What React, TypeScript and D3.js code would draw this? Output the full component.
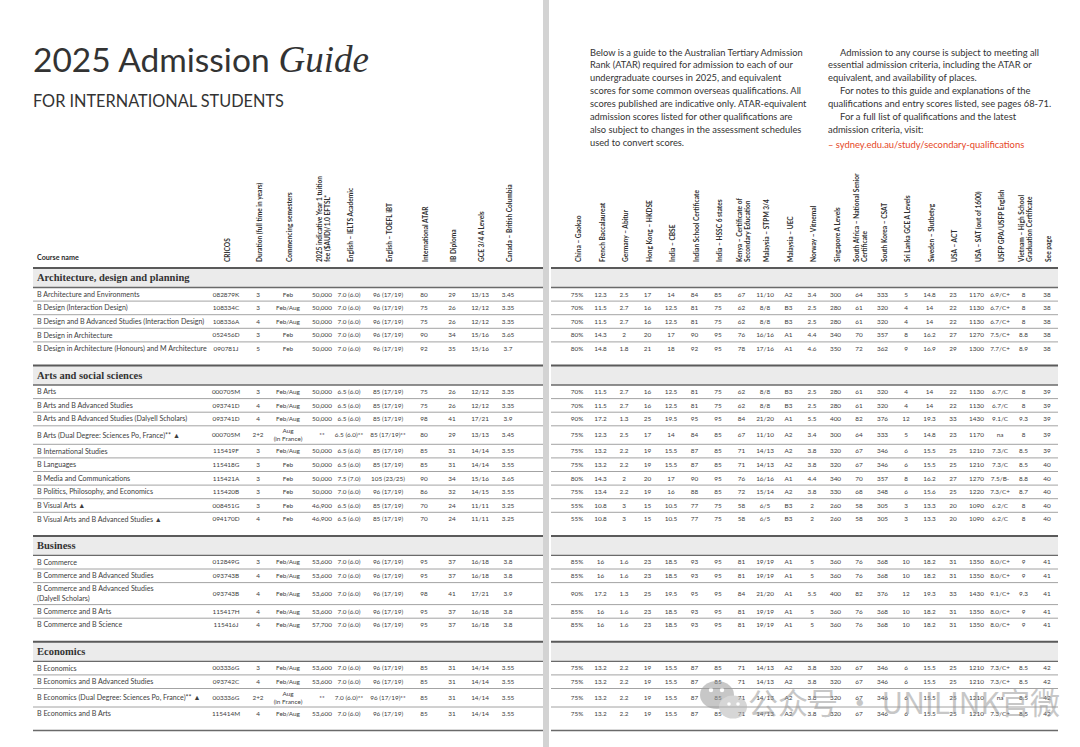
import React from "react";
import * as d3 from "d3";

// ---------- DATA ----------
const titleMain = "2025 Admission";
const titleItalic = "Guide";
const subtitle = "FOR INTERNATIONAL STUDENTS";

const introLeft = [
  "Below is a guide to the Australian Tertiary Admission",
  "Rank (ATAR) required for admission to each of our",
  "undergraduate courses in 2025, and equivalent",
  "scores for some common overseas qualifications. All",
  "scores published are indicative only. ATAR-equivalent",
  "admission scores listed for other qualifications are",
  "also subject to changes in the assessment schedules",
  "used to convert scores.",
];
const introRight = [
  { t: "Admission to any course is subject to meeting all", indent: true },
  { t: "essential admission criteria, including the ATAR or", indent: false },
  { t: "equivalent, and availability of places.", indent: false },
  { t: "For notes to this guide and explanations of the", indent: true },
  { t: "qualifications and entry scores listed, see pages 68-71.", indent: false },
  { t: "For a full list of qualifications and the latest", indent: true },
  { t: "admission criteria, visit:", indent: false },
];
const linkText = "–  sydney.edu.au/study/secondary-qualifications";

const leftHeaders = [
  ["CRICOS"],
  ["Duration (full time in years)"],
  ["Commencing semesters"],
  ["2025 indicative Year 1 tuition", "fee ($AUD)/1.0 EFTSL*"],
  ["English – IELTS Academic"],
  ["English – TOEFL iBT"],
  ["International ATAR"],
  ["IB Diploma"],
  ["GCE 3/4 A Levels"],
  ["Canada – British Columbia"],
];
const rightHeaders = [
  ["China – Gaokao"],
  ["French Baccalaureat"],
  ["Germany – Abitur"],
  ["Hong Kong – HKDSE"],
  ["India – CBSE"],
  ["Indian School Certificate"],
  ["India – HSSC 6 states"],
  ["Kenya – Certificate of", "Secondary Education"],
  ["Malaysia – STPM 3/4"],
  ["Malaysia – UEC"],
  ["Norway – Vitnemal"],
  ["Singapore A Levels"],
  ["South Africa – National Senior", "Certificate"],
  ["South Korea – CSAT"],
  ["Sri Lanka GCE A Levels"],
  ["Sweden – Slutbetyg"],
  ["USA – ACT"],
  ["USA – SAT (out of 1600)"],
  ["USFP GPA/USFP English"],
  ["Vietnam – High School", "Graduation Certificate"],
  ["See page"],
];

const sectionTitles = [
  "Architecture, design and planning",
  "Arts and social sciences",
  "Business",
  "Economics",
];

const archNames = [
  "B Architecture and Environments",
  "B Design (Interaction Design)",
  "B Design and B Advanced Studies (Interaction Design)",
  "B Design in Architecture",
  "B Design in Architecture (Honours) and M Architecture",
];
const archLeft = [
  ["082879K", "3", "Feb", "50,000", "7.0 (6.0)", "96 (17/19)", "80", "29", "13/13", "3.45"],
  ["108334C", "3", "Feb/Aug", "50,000", "7.0 (6.0)", "96 (17/19)", "75", "26", "12/12", "3.35"],
  ["108336A", "4", "Feb/Aug", "50,000", "7.0 (6.0)", "96 (17/19)", "75", "26", "12/12", "3.35"],
  ["052456D", "3", "Feb", "50,000", "7.0 (6.0)", "96 (17/19)", "90", "34", "15/16", "3.65"],
  ["090781J", "5", "Feb", "50,000", "7.0 (6.0)", "96 (17/19)", "92", "35", "15/16", "3.7"],
];
const archRight = [
  ["75%", "12.3", "2.5", "17", "14", "84", "85", "67", "11/10", "A2", "3.4", "300", "64", "333", "5", "14.8", "23", "1170", "6.9/C+", "8", "38"],
  ["70%", "11.5", "2.7", "16", "12.5", "81", "75", "62", "8/8", "B3", "2.5", "280", "61", "320", "4", "14", "22", "1130", "6.7/C+", "8", "38"],
  ["70%", "11.5", "2.7", "16", "12.5", "81", "75", "62", "8/8", "B3", "2.5", "280", "61", "320", "4", "14", "22", "1130", "6.7/C+", "8", "38"],
  ["80%", "14.3", "2", "20", "17", "90", "95", "76", "16/16", "A1", "4.4", "340", "70", "357", "8", "16.2", "27", "1270", "7.5/C+", "8.8", "38"],
  ["80%", "14.8", "1.8", "21", "18", "92", "95", "78", "17/16", "A1", "4.6", "350", "72", "362", "9", "16.9", "29", "1300", "7.7/C+", "8.9", "38"],
];

const artsNames = [
  "B Arts",
  "B Arts and B Advanced Studies",
  "B Arts and B Advanced Studies (Dalyell Scholars)",
  "B Arts (Dual Degree: Sciences Po, France)**  ▲",
  "B International Studies",
  "B Languages",
  "B Media and Communications",
  "B Politics, Philosophy, and Economics",
  "B Visual Arts  ▲",
  "B Visual Arts and B Advanced Studies  ▲",
];
const artsLeft = [
  ["000705M", "3", "Feb/Aug", "50,000", "6.5 (6.0)", "85 (17/19)", "75", "26", "12/12", "3.35"],
  ["093741D", "4", "Feb/Aug", "50,000", "6.5 (6.0)", "85 (17/19)", "75", "26", "12/12", "3.35"],
  ["093741D", "4", "Feb/Aug", "50,000", "6.5 (6.0)", "85 (17/19)", "98", "41", "17/21", "3.9"],
  ["000705M", "2+2", "Aug\n(in France)", "**", "6.5 (6.0)**", "85 (17/19)**", "80", "29", "13/13", "3.45"],
  ["115419F", "3", "Feb/Aug", "50,000", "6.5 (6.0)", "85 (17/19)", "85", "31", "14/14", "3.55"],
  ["115418G", "3", "Feb", "50,000", "6.5 (6.0)", "85 (17/19)", "85", "31", "14/14", "3.55"],
  ["115421A", "3", "Feb", "50,000", "7.5 (7.0)", "105 (23/25)", "90", "34", "15/16", "3.65"],
  ["115420B", "3", "Feb", "50,000", "7.0 (6.0)", "96 (17/19)", "86", "32", "14/15", "3.55"],
  ["008451G", "3", "Feb", "46,900", "6.5 (6.0)", "85 (17/19)", "70", "24", "11/11", "3.25"],
  ["094170D", "4", "Feb", "46,900", "6.5 (6.0)", "85 (17/19)", "70", "24", "11/11", "3.25"],
];
const artsRight = [
  ["70%", "11.5", "2.7", "16", "12.5", "81", "75", "62", "8/8", "B3", "2.5", "280", "61", "320", "4", "14", "22", "1130", "6.7/C", "8", "39"],
  ["70%", "11.5", "2.7", "16", "12.5", "81", "75", "62", "8/8", "B3", "2.5", "280", "61", "320", "4", "14", "22", "1130", "6.7/C", "8", "39"],
  ["90%", "17.2", "1.3", "25", "19.5", "95", "95", "84", "21/20", "A1", "5.5", "400", "82", "376", "12", "19.3", "33", "1430", "9.1/C", "9.3", "39"],
  ["75%", "12.3", "2.5", "17", "14", "84", "85", "67", "11/10", "A2", "3.4", "300", "64", "333", "5", "14.8", "23", "1170", "na", "8", "39"],
  ["75%", "13.2", "2.2", "19", "15.5", "87", "85", "71", "14/13", "A2", "3.8", "320", "67", "346", "6", "15.5", "25", "1210", "7.3/C", "8.5", "39"],
  ["75%", "13.2", "2.2", "19", "15.5", "87", "85", "71", "14/13", "A2", "3.8", "320", "67", "346", "6", "15.5", "25", "1210", "7.3/C", "8.5", "40"],
  ["80%", "14.3", "2", "20", "17", "90", "95", "76", "16/16", "A1", "4.4", "340", "70", "357", "8", "16.2", "27", "1270", "7.5/B-", "8.8", "40"],
  ["75%", "13.4", "2.2", "19", "16", "88", "85", "72", "15/14", "A2", "3.8", "330", "68", "348", "6", "15.6", "25", "1220", "7.3/C+", "8.7", "40"],
  ["55%", "10.8", "3", "15", "10.5", "77", "75", "58", "6/5", "B3", "2", "260", "58", "305", "3", "13.3", "20", "1090", "6.2/C", "8", "40"],
  ["55%", "10.8", "3", "15", "10.5", "77", "75", "58", "6/5", "B3", "2", "260", "58", "305", "3", "13.3", "20", "1090", "6.2/C", "8", "40"],
];

const bizNames = [
  "B Commerce",
  "B Commerce and B Advanced Studies",
  "B Commerce and B Advanced Studies\n(Dalyell Scholars)",
  "B Commerce and B Arts",
  "B Commerce and B Science",
];
const bizLeft = [
  ["012849G", "3", "Feb/Aug", "53,600", "7.0 (6.0)", "96 (17/19)", "95", "37", "16/18", "3.8"],
  ["093743B", "4", "Feb/Aug", "53,600", "7.0 (6.0)", "96 (17/19)", "95", "37", "16/18", "3.8"],
  ["093743B", "4", "Feb/Aug", "53,600", "7.0 (6.0)", "96 (17/19)", "98", "41", "17/21", "3.9"],
  ["115417H", "4", "Feb/Aug", "53,600", "7.0 (6.0)", "96 (17/19)", "95", "37", "16/18", "3.8"],
  ["115416J", "4", "Feb/Aug", "57,700", "7.0 (6.0)", "96 (17/19)", "95", "37", "16/18", "3.8"],
];
const bizRight = [
  ["85%", "16", "1.6", "23", "18.5", "93", "95", "81", "19/19", "A1", "5", "360", "76", "368", "10", "18.2", "31", "1350", "8.0/C+", "9", "41"],
  ["85%", "16", "1.6", "23", "18.5", "93", "95", "81", "19/19", "A1", "5", "360", "76", "368", "10", "18.2", "31", "1350", "8.0/C+", "9", "41"],
  ["90%", "17.2", "1.3", "25", "19.5", "95", "95", "84", "21/20", "A1", "5.5", "400", "82", "376", "12", "19.3", "33", "1430", "9.1/C+", "9.3", "41"],
  ["85%", "16", "1.6", "23", "18.5", "93", "95", "81", "19/19", "A1", "5", "360", "76", "368", "10", "18.2", "31", "1350", "8.0/C+", "9", "41"],
  ["85%", "16", "1.6", "23", "18.5", "93", "95", "81", "19/19", "A1", "5", "360", "76", "368", "10", "18.2", "31", "1350", "8.0/C+", "9", "41"],
];

const ecoNames = [
  "B Economics",
  "B Economics and B Advanced Studies",
  "B Economics (Dual Degree: Sciences Po, France)** ▲",
  "B Economics and B Arts",
];
const ecoLeft = [
  ["003336G", "3", "Feb/Aug", "53,600", "7.0 (6.0)", "96 (17/19)", "85", "31", "14/14", "3.55"],
  ["093742C", "4", "Feb/Aug", "53,600", "7.0 (6.0)", "96 (17/19)", "85", "31", "14/14", "3.55"],
  ["003336G", "2+2", "Aug\n(in France)", "**", "7.0 (6.0)**", "96 (17/19)**", "85", "31", "14/14", "3.55"],
  ["115414M", "4", "Feb/Aug", "53,600", "7.0 (6.0)", "96 (17/19)", "85", "31", "14/14", "3.55"],
];
const ecoRight = [
  ["75%", "13.2", "2.2", "19", "15.5", "87", "85", "71", "14/13", "A2", "3.8", "320", "67", "346", "6", "15.5", "25", "1210", "7.3/C+", "8.5", "42"],
  ["75%", "13.2", "2.2", "19", "15.5", "87", "85", "71", "14/13", "A2", "3.8", "320", "67", "346", "6", "15.5", "25", "1210", "7.3/C+", "8.5", "42"],
  ["75%", "13.2", "2.2", "19", "15.5", "87", "85", "71", "14/13", "A2", "3.8", "320", "67", "346", "6", "15.5", "25", "1210", "na", "8.5", "42"],
  ["75%", "13.2", "2.2", "19", "15.5", "87", "85", "71", "14/13", "A2", "3.8", "320", "67", "346", "6", "15.5", "25", "1210", "7.3/C+", "8.5", "42"],
];

const watermarkText = "公众号 · UNILINK官微";

// ---------- LAYOUT ----------
const W = 1080;
const H = 747;
const SANS = "Lato, 'Open Sans', sans-serif";
const SERIF = "'Liberation Serif', 'DejaVu Serif', serif";
const TXT = "#3d3d3d";

const LEFT_X0 = 33;
const LEFT_X1 = 543;
const RIGHT_X0 = 551;
const RIGHT_X1 = 1058;
const HEAD_Y = 268;
const BAND = 19.5;
const ROW = 13.6;
const ROW_DBL = 18.5;
const ROW_DBL_NAME = 22;
const GAP = 10;
const FS = 6.4;
const FS_NAME = 7.1;
const FS_HEAD = 6.6;

export default function App() {
  const sections = [
    { title: sectionTitles[0], names: archNames, left: archLeft, right: archRight },
    { title: sectionTitles[1], names: artsNames, left: artsLeft, right: artsRight },
    { title: sectionTitles[2], names: bizNames, left: bizLeft, right: bizRight },
    { title: sectionTitles[3], names: ecoNames, left: ecoLeft, right: ecoRight },
  ];

  const leftX = d3
    .scaleOrdinal<number, number>()
    .domain(d3.range(leftHeaders.length))
    .range([226, 258, 288, 322, 349, 388, 424, 452, 480, 508]);
  const rightX = d3
    .scalePoint<number>()
    .domain(d3.range(rightHeaders.length))
    .range([577, 1047]);

  // vertical layout
  let y = HEAD_Y;
  const layout = sections.map((s) => {
    const top = y;
    const bandBottom = top + BAND;
    let ry = bandBottom;
    const rows = s.names.map((name, i) => {
      const nameDbl = name.includes("\n");
      const dbl = nameDbl || s.left[i].some((v) => v.includes("\n"));
      const h = nameDbl ? ROW_DBL_NAME : dbl ? ROW_DBL : ROW;
      const r = { y0: ry, y1: ry + h, cy: ry + h / 2 };
      ry += h;
      return r;
    });
    y = ry + GAP;
    return { top, bandBottom, rows };
  });
  const bottomY = y;

  const cell = (
    txt: string,
    x: number,
    cy: number,
    anchor: string,
    lineGap: number,
    fs: number,
    key: string
  ) => {
    const lines = txt.split("\n");
    const n = lines.length;
    return (
      <text key={key} x={x} textAnchor={anchor as any} fontFamily={SANS} fontSize={fs} fill={TXT}>
        {lines.map((l, k) => (
          <tspan key={k} x={x} y={cy + (k - (n - 1) / 2) * lineGap + fs * 0.35}>
            {l}
          </tspan>
        ))}
      </text>
    );
  };

  const header = (lines: string[], x: number, key: string) => {
    const n = lines.length;
    return (
      <text
        key={key}
        transform={`translate(${x},262) rotate(-90)`}
        fontFamily={SANS}
        fontSize={FS_HEAD}
        fontWeight={700}
        fill="#2f2f2f"
      >
        {lines.map((l, k) => (
          <tspan key={k} x={0} y={(k - (n - 1) / 2) * 8 + FS_HEAD * 0.35}>
            {l}
          </tspan>
        ))}
      </text>
    );
  };

  return (
    <svg
      width={W}
      height={H}
      viewBox={`0 0 ${W} ${H}`}
      style={{ position: "absolute", left: 0, top: 0, background: "#fff" }}
    >
      <rect x={0} y={0} width={W} height={H} fill="#ffffff" />
      {/* gutter */}
      <rect x={543} y={0} width={6} height={H} fill="#d3d3d3" />

      {/* title */}
      <text x={33} y={72} fontFamily={SANS} fontSize={33.5} fill="#333">
        {titleMain}
        <tspan fontFamily={SERIF} fontStyle="italic" fontSize={37} dx={9}>
          {titleItalic}
        </tspan>
      </text>
      <text x={33} y={107} fontFamily={SANS} fontSize={16.3} fill="#333">
        {subtitle}
      </text>

      {/* intro */}
      {introLeft.map((t, i) => (
        <text key={"il" + i} x={590} y={55.5 + i * 12.86} fontFamily={SANS} fontSize={9.3} fill="#333">
          {t}
        </text>
      ))}
      {introRight.map((t, i) => (
        <text
          key={"ir" + i}
          x={t.indent ? 840 : 828}
          y={55.5 + i * 12.86}
          fontFamily={SANS}
          fontSize={9.4}
          fill="#333"
        >
          {t.t}
        </text>
      ))}
      <text x={828} y={148} fontFamily={SANS} fontSize={9.4} fill="#e64626">
        {linkText}
      </text>

      {/* column headers */}
      <text x={37} y={260} fontFamily={SANS} fontSize={7.2} fontWeight={700} fill="#2a2a2a">
        Course name
      </text>
      {leftHeaders.map((h, i) => header(h, leftX(i) + 2, "lh" + i))}
      {rightHeaders.map((h, i) => header(h, (rightX(i) as number) + 2, "rh" + i))}

      {/* sections */}
      {sections.map((s, si) => {
        const L = layout[si];
        return (
          <g key={"s" + si}>
            {[
              [LEFT_X0, LEFT_X1],
              [RIGHT_X0, RIGHT_X1],
            ].map(([a, b], k) => (
              <g key={k}>
                <rect x={a} y={L.top} width={b - a} height={BAND} fill="#ebebeb" />
                <line x1={a} x2={b} y1={L.top} y2={L.top} stroke="#5a5a5a" strokeWidth={2} />
                <line x1={a} x2={b} y1={L.bandBottom} y2={L.bandBottom} stroke="#6a6a6a" strokeWidth={1.3} />
                {L.rows.slice(0, -1).map((r, ri) => (
                  <line key={ri} x1={a} x2={b} y1={r.y1} y2={r.y1} stroke="#8c8c8c" strokeWidth={0.8} />
                ))}
              </g>
            ))}
            <text
              x={37}
              y={L.top + BAND / 2 + 3.7}
              fontFamily={SERIF}
              fontWeight={700}
              fontSize={10.5}
              fill="#333"
            >
              {s.title}
            </text>
            {s.names.map((name, ri) => {
              const r = L.rows[ri];
              return (
                <g key={"r" + ri}>
                  {cell(name, 37, r.cy, "start", 10, FS_NAME, "n")}
                  {s.left[ri].map((v, ci) => cell(v, leftX(ci), r.cy, "middle", 7.8, FS, "l" + ci))}
                  {s.right[ri].map((v, ci) =>
                    cell(v, rightX(ci) as number, r.cy, "middle", 7.8, FS, "r" + ci)
                  )}
                </g>
              );
            })}
          </g>
        );
      })}
      {/* closing lines */}
      <line x1={LEFT_X0} x2={LEFT_X1} y1={bottomY} y2={bottomY} stroke="#6a6a6a" strokeWidth={1.5} />
      <line x1={RIGHT_X0} x2={RIGHT_X1} y1={bottomY} y2={bottomY} stroke="#6a6a6a" strokeWidth={1.5} />

      {/* watermark */}
      <g opacity={0.55} fill="#9a9a9a">
        <ellipse cx={717} cy={695} rx={17} ry={14} />
        <ellipse cx={733} cy={707} rx={14} ry={11.5} fill="#b5b5b5" />
        <circle cx={711} cy={690} r={2.2} fill="#fff" />
        <circle cx={722} cy={690} r={2.2} fill="#fff" />
        <circle cx={729} cy={704} r={1.8} fill="#fff" />
        <circle cx={738} cy={704} r={1.8} fill="#fff" />
        <text x={748} y={714} fontFamily="'Noto Sans CJK SC', sans-serif" fontSize={30} textLength={312}>
          {watermarkText}
        </text>
      </g>
    </svg>
  );
}
